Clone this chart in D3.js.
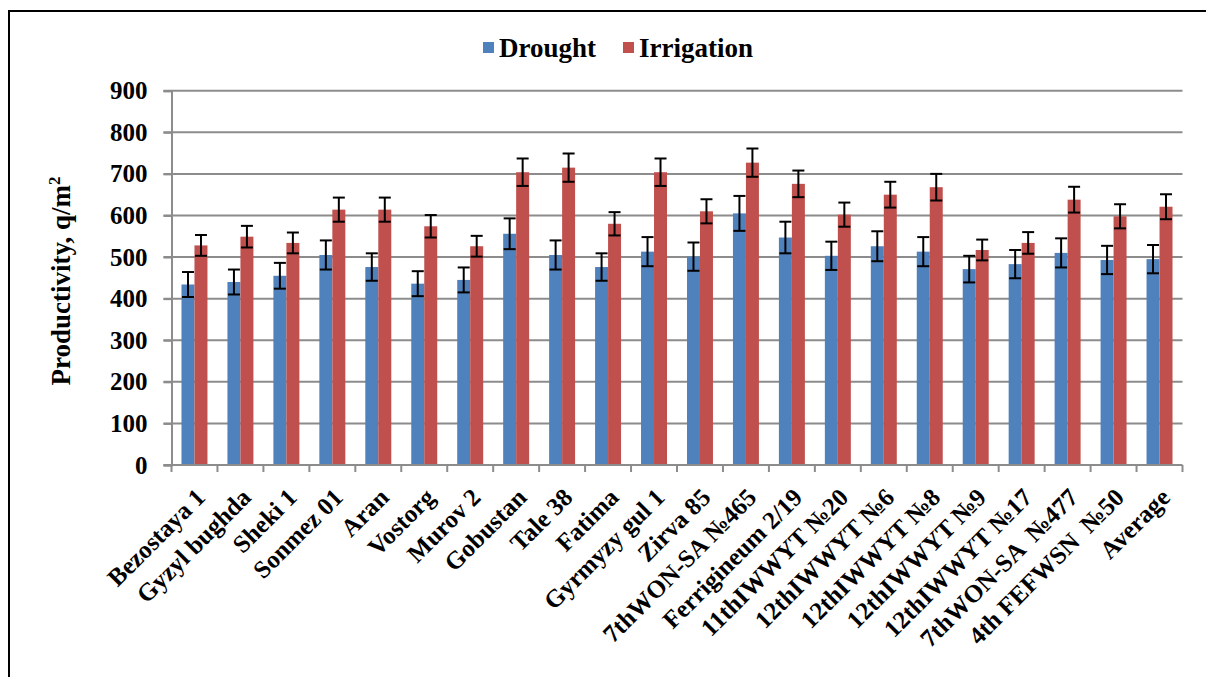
<!DOCTYPE html>
<html>
<head>
<meta charset="utf-8">
<script src="https://cdn.jsdelivr.net/npm/d3@7"></script>
<style>
  html, body { margin: 0; padding: 0; background: #fff; }
  svg { display: block; }
  text { font-family: "Liberation Serif", "Times New Roman", serif; font-weight: bold; fill: #000; }
</style>
</head>
<body>
<svg id="chart" width="1206" height="677"></svg>
<script>
const categories = ["Bezostaya 1","Gyzyl bughda","Sheki 1","Sonmez 01","Aran","Vostorg","Murov 2","Gobustan","Tale 38","Fatima","Gyrmyzy gul 1","Zirva 85","7thWON-SA №465","Ferrigineum 2/19","11thIWWYT №20","12thIWWYT №6","12thIWWYT №8","12thIWWYT №9","12thIWWYT №17","7thWON-SA  №477","4th FEFWSN  №50","Average"];
const seriesNames = ["Drought", "Irrigation"];
const drought = [434, 440, 455, 505, 476, 436, 445, 556, 505, 476, 513, 501, 605, 547, 503, 526, 513, 471, 483, 510, 493, 495];
const droughtErr = [30, 30, 31, 35, 33, 30, 30, 37, 35, 33, 35, 34, 42, 38, 34, 36, 35, 32, 34, 35, 34, 34];
const irrigation = [528, 549, 534, 614, 614, 574, 526, 704, 715, 580, 704, 610, 727, 676, 602, 650, 668, 517, 534, 638, 598, 621];
const irrigationErr = [25, 26, 25, 29, 29, 27, 25, 33, 34, 28, 33, 29, 34, 32, 29, 31, 32, 25, 26, 31, 29, 30];
const yTicks = [0, 100, 200, 300, 400, 500, 600, 700, 800, 900];
const colors = ["#4F81BD", "#C0504D"];

(function () {
const FONT = "'Liberation Serif', 'Times New Roman', serif";
const svg = d3.select("#chart");

// outer frame (left and top edges visible)
svg.append("path")
  .attr("d", "M9,677 L9,11 L1206,11")
  .attr("fill", "none").attr("stroke", "#000").attr("stroke-width", 2);

const pLeft = 171.5, pRight = 1182.5, pTop = 90.7, pBottom = 465;
const x = d3.scaleBand().domain(categories).range([pLeft, pRight]).paddingInner(0).paddingOuter(0);
const y = d3.scaleLinear().domain([0, 900]).range([pBottom, pTop]);
const barW = x.bandwidth() * 13 / 46;
const sub = d3.scaleBand().domain(seriesNames).range([0, barW * 2]);

// gridlines
svg.append("g").selectAll("line").data(yTicks.filter(d => d > 0)).join("line")
  .attr("x1", pLeft - 8).attr("x2", pRight)
  .attr("y1", d => y(d)).attr("y2", d => y(d))
  .attr("stroke", "#8c8c8c").attr("stroke-width", 2);

// y axis
const yAxis = d3.axisLeft(y).tickValues(yTicks).tickSize(8).tickPadding(16);
const gy = svg.append("g").attr("transform", `translate(${pLeft},0)`).call(yAxis);
gy.select(".domain").attr("stroke", "#8c8c8c").attr("stroke-width", 2);
gy.selectAll(".tick line").attr("stroke", "#8c8c8c").attr("stroke-width", 2);
gy.selectAll(".tick text").attr("font-size", 25).attr("font-family", FONT).attr("font-weight", "bold").attr("fill", "#000");

// bars
const series = [
  { name: seriesNames[0], values: drought, errs: droughtErr, color: colors[0] },
  { name: seriesNames[1], values: irrigation, errs: irrigationErr, color: colors[1] }
];
const groupOffset = (x.bandwidth() - barW * 2) / 2;
series.forEach(s => {
  const g = svg.append("g");
  g.selectAll("rect").data(categories).join("rect")
    .attr("x", (c) => x(c) + groupOffset + sub(s.name))
    .attr("width", barW)
    .attr("y", (c, i) => y(s.values[i]))
    .attr("height", (c, i) => y(0) - y(s.values[i]))
    .attr("fill", s.color);
});

// error bars
series.forEach(s => {
  const g = svg.append("g").attr("stroke", "#000").attr("stroke-width", 2).attr("fill", "none");
  categories.forEach((c, i) => {
    const cx = x(c) + groupOffset + sub(s.name) + barW / 2;
    const hi = y(s.values[i] + s.errs[i]);
    const lo = y(s.values[i] - s.errs[i]);
    g.append("line").attr("x1", cx).attr("x2", cx).attr("y1", hi).attr("y2", lo);
    g.append("line").attr("x1", cx - 6).attr("x2", cx + 6).attr("y1", hi).attr("y2", hi);
    g.append("line").attr("x1", cx - 6).attr("x2", cx + 6).attr("y1", lo).attr("y2", lo);
  });
});

// x axis
const gx = svg.append("g").attr("transform", `translate(0,${pBottom})`);
gx.append("line").attr("x1", pLeft - 8).attr("x2", pRight).attr("y1", 0).attr("y2", 0)
  .attr("stroke", "#8c8c8c").attr("stroke-width", 2);
const boundaries = categories.map(c => x(c)).concat([pRight]);
gx.selectAll("line.tk").data(boundaries).join("line").attr("class", "tk")
  .attr("x1", d => d).attr("x2", d => d).attr("y1", 0).attr("y2", 7)
  .attr("stroke", "#8c8c8c").attr("stroke-width", 2);
gx.selectAll("text").data(categories).join("text")
  .attr("transform", c => `translate(${x(c) + x.bandwidth() / 2 + 12},${34}) rotate(-45)`)
  .attr("text-anchor", "end")
  .attr("font-family", FONT).attr("font-weight", "bold")
  .attr("font-size", 25)
  .style("white-space", "pre")
  .text(c => c);

// y title
const yt = svg.append("text")
  .attr("transform", `translate(70,${281}) rotate(-90)`)
  .attr("text-anchor", "middle")
  .attr("font-family", FONT).attr("font-weight", "bold")
  .attr("font-size", 27);
yt.append("tspan").text("Productivity, q/m");
yt.append("tspan").attr("font-size", 17).attr("dy", -10).text("2");

// legend
const legend = svg.append("g");
const legItems = [{ name: seriesNames[0], color: colors[0], x: 483 }, { name: seriesNames[1], color: colors[1], x: 623 }];
legItems.forEach(it => {
  legend.append("rect").attr("x", it.x).attr("y", 42).attr("width", 11).attr("height", 11).attr("fill", it.color);
  legend.append("text").attr("x", it.x + 16).attr("y", 57)
    .attr("font-family", FONT).attr("font-weight", "bold")
    .attr("font-size", 27).text(it.name);
});
})();
</script>
</body>
</html>
